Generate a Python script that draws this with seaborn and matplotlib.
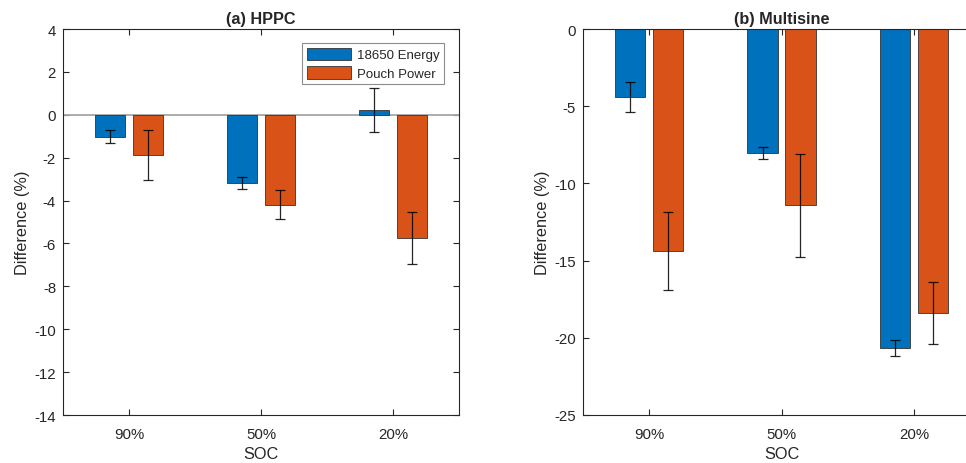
import matplotlib
matplotlib.use("Agg")
import matplotlib.pyplot as plt
import seaborn as sns
import pandas as pd
from matplotlib.patches import Patch

soc = ["90%", "50%", "20%"]
series = ["18650 Energy", "Pouch Power"]
colors = ["#0072BD", "#D95319"]

hppc_energy = [-1.02, -3.19, 0.21]
hppc_energy_err = [0.30, 0.27, 1.03]
hppc_pouch = [-1.87, -4.20, -5.74]
hppc_pouch_err = [1.17, 0.68, 1.22]

ms_energy = [-4.40, -8.05, -20.68]
ms_energy_err = [0.95, 0.40, 0.53]
ms_pouch = [-14.36, -11.42, -18.39]
ms_pouch_err = [2.52, 3.34, 1.99]

hppc_yticks = [4, 2, 0, -2, -4, -6, -8, -10, -12, -14]
ms_yticks = [0, -5, -10, -15, -20, -25]

sns.set_theme(style="white")
plt.rcParams["font.family"] = ["Liberation Sans", "DejaVu Sans"]
plt.rcParams["axes.edgecolor"] = "#262626"
plt.rcParams["axes.linewidth"] = 0.8

fig = plt.figure(figsize=(9.66, 4.64), dpi=100)
ax1 = fig.add_axes([63 / 966, 1 - 416 / 464, 396 / 966, 386 / 464])
ax2 = fig.add_axes([583 / 966, 1 - 416 / 464, 397 / 966, 386 / 464])


def make_df(a, b):
    return pd.DataFrame({
        "SOC": soc * 2,
        "Series": [series[0]] * 3 + [series[1]] * 3,
        "Value": list(a) + list(b),
    })


def draw(ax, a, ae, b, be, yticks, title):
    df = make_df(a, b)
    sns.barplot(data=df, x="SOC", y="Value", hue="Series", order=soc,
                hue_order=series, palette=colors, width=0.572, gap=0.2,
                errorbar=None, edgecolor="#333333", linewidth=0.6,
                saturation=1, ax=ax, legend=False, zorder=2)
    for cont, err in zip(ax.containers, [ae, be]):
        xs = [p.get_x() + p.get_width() / 2 for p in cont.patches]
        vals = [p.get_height() for p in cont.patches]
        ax.errorbar(xs, vals, yerr=err, fmt="none", ecolor="black",
                    elinewidth=0.9, capsize=3.6, capthick=0.9, alpha=0.85,
                    zorder=3)
    ax.set_xlim(-0.5, 2.5)
    ax.set_ylim(min(yticks), max(yticks))
    ax.set_yticks(yticks)
    ax.set_yticklabels([str(t) for t in yticks])
    ax.set_xlabel("SOC", fontsize=11.7, color="#262626", labelpad=3)
    ax.set_ylabel("Difference (%)", fontsize=11.7, color="#262626", labelpad=3)
    ax.set_title(title, fontsize=11.7, fontweight="bold", pad=4)
    ax.tick_params(direction="in", length=4, width=0.8, colors="#262626",
                   labelsize=10.8, top=True, right=True, bottom=True, left=True,
                   labelcolor="#262626")
    ax.tick_params(axis="x", pad=9)
    ax.tick_params(axis="y", pad=5)
    for s in ax.spines.values():
        s.set_visible(True)
        s.set_color("#262626")
        s.set_linewidth(0.8)


draw(ax1, hppc_energy, hppc_energy_err, hppc_pouch, hppc_pouch_err,
     hppc_yticks, "(a) HPPC")
ax1.axhline(0, color="#a6a6a6", lw=1.3, zorder=1.5)
handles = [Patch(facecolor=colors[0], edgecolor="#333333", linewidth=0.6),
           Patch(facecolor=colors[1], edgecolor="#333333", linewidth=0.6)]
leg = ax1.legend(handles, series, loc="upper right",
                 bbox_to_anchor=(1 - 15 / 396, 1 - 14 / 386), borderaxespad=0,
                 fontsize=9.5, frameon=True, fancybox=False, framealpha=1,
                 edgecolor="#8c8c8c", handlelength=3.4, handleheight=1.1,
                 handletextpad=0.4, borderpad=0.35, labelspacing=0.35)
leg.get_frame().set_linewidth(0.8)

draw(ax2, ms_energy, ms_energy_err, ms_pouch, ms_pouch_err,
     ms_yticks, "(b) Multisine")

fig.savefig("out.png", dpi=100)
